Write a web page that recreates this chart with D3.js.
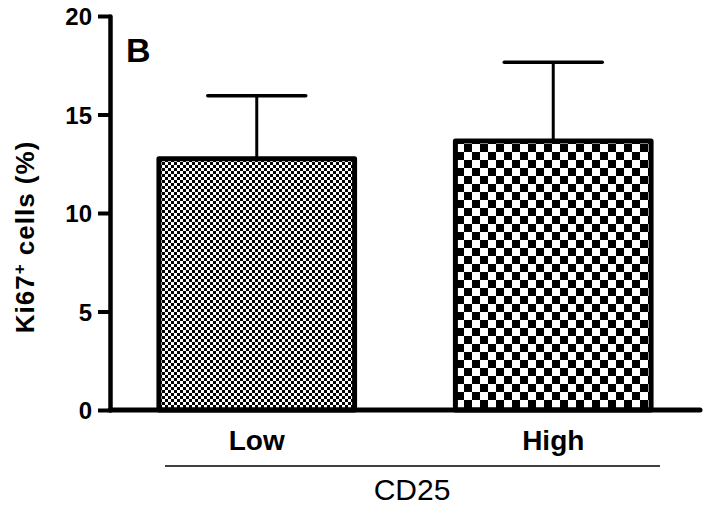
<!DOCTYPE html>
<html>
<head>
<meta charset="utf-8">
<script src="https://cdn.jsdelivr.net/npm/d3@7"></script>
<style>
  html, body { margin: 0; padding: 0; background: #fff; }
  svg { display: block; }
</style>
</head>
<body>
<div id="chart"></div>
<script>
// ---- data ----
const categories = ["Low", "High"];
const means = [12.75, 13.65];
const errors = [3.2, 4.0];
const yTicks = [0, 5, 10, 15, 20];
const groupLabel = "CD25";
const panelLabel = "B";

const W = 708, H = 517;
const svg = d3.select("#chart").append("svg").attr("width", W).attr("height", H);

const defs = svg.append("defs");
function checker(id, cell) {
  const p = defs.append("pattern").attr("id", id)
    .attr("patternUnits", "userSpaceOnUse")
    .attr("width", cell * 2).attr("height", cell * 2);
  p.append("rect").attr("width", cell * 2).attr("height", cell * 2).attr("fill", "#fff");
  p.append("rect").attr("x", 0).attr("y", 0).attr("width", cell).attr("height", cell).attr("fill", "#000");
  p.append("rect").attr("x", cell).attr("y", cell).attr("width", cell).attr("height", cell).attr("fill", "#000");
}
checker("pLow", 3);
checker("pHigh", 8);
const patterns = ["url(#pLow)", "url(#pHigh)"];

const x0 = 110, x1 = 700, yTop = 16, yBase = 410;
const x = d3.scaleBand().domain(categories).range([x0, x1]).paddingInner(0.34).paddingOuter(0.165);
const y = d3.scaleLinear().domain([0, 20]).range([yBase, yTop]);

// error bars (behind bars)
const eb = svg.append("g");
categories.forEach((c, i) => {
  const cx = x(c) + x.bandwidth() / 2;
  eb.append("line").attr("x1", cx).attr("x2", cx)
    .attr("y1", y(means[i])).attr("y2", y(means[i] + errors[i]))
    .attr("stroke", "#000").attr("stroke-width", 3);
  eb.append("line").attr("x1", cx - 49).attr("x2", cx + 49)
    .attr("y1", y(means[i] + errors[i])).attr("y2", y(means[i] + errors[i]))
    .attr("stroke", "#000").attr("stroke-width", 3.5).attr("stroke-linecap", "round");
});

// bars
svg.append("g").selectAll("rect").data(categories).join("rect")
  .attr("x", d => x(d))
  .attr("y", (d, i) => y(means[i]))
  .attr("width", x.bandwidth())
  .attr("height", (d, i) => yBase - y(means[i]))
  .attr("fill", (d, i) => patterns[i])
  .attr("stroke", "#000").attr("stroke-width", 5)
  .attr("stroke-linejoin", "round");

// y axis
const yAxis = svg.append("g").attr("transform", `translate(${x0},0)`)
  .call(d3.axisLeft(y).tickValues(yTicks).tickSize(12).tickSizeOuter(0).tickPadding(6).tickFormat(d3.format("d")));
yAxis.select(".domain").attr("stroke", "#000").attr("stroke-width", 4.5).attr("stroke-linecap", "round");
yAxis.selectAll(".tick line").attr("stroke", "#000").attr("stroke-width", 4);
yAxis.selectAll(".tick text")
  .attr("font-family", "Liberation Sans, Arial, sans-serif")
  .attr("font-weight", "bold").attr("font-size", 24).attr("fill", "#000").attr("dy", "0.36em");

// x axis line
svg.append("line").attr("x1", x0).attr("x2", x1).attr("y1", yBase).attr("y2", yBase)
  .attr("stroke", "#000").attr("stroke-width", 5).attr("stroke-linecap", "round");

// category labels
svg.append("g").selectAll("text").data(categories).join("text")
  .attr("x", d => x(d) + x.bandwidth() / 2)
  .attr("y", 450)
  .attr("text-anchor", "middle")
  .attr("font-family", "Liberation Sans, Arial, sans-serif")
  .attr("font-weight", "bold").attr("font-size", 28)
  .text(d => d);

// group bracket
svg.append("line").attr("x1", 165).attr("x2", 660).attr("y1", 466).attr("y2", 466)
  .attr("stroke", "#000").attr("stroke-width", 1.5);
svg.append("text").attr("x", 412).attr("y", 500).attr("text-anchor", "middle")
  .attr("font-family", "Liberation Sans, Arial, sans-serif")
  .attr("font-size", 30).text(groupLabel);

// panel label
svg.append("text").attr("x", 126).attr("y", 62)
  .attr("font-family", "Liberation Sans, Arial, sans-serif")
  .attr("font-weight", "bold").attr("font-size", 34).text(panelLabel);

// y title
const yt = svg.append("text")
  .attr("transform", "translate(34,237) rotate(-90)")
  .attr("text-anchor", "middle")
  .attr("letter-spacing", 1)
  .attr("font-family", "Liberation Sans, Arial, sans-serif")
  .attr("font-weight", "bold").attr("font-size", 26);
yt.append("tspan").text("Ki67");
yt.append("tspan").attr("baseline-shift", "super").attr("font-size", 17).text("+");
yt.append("tspan").text(" cells (%)");
</script>
</body>
</html>
